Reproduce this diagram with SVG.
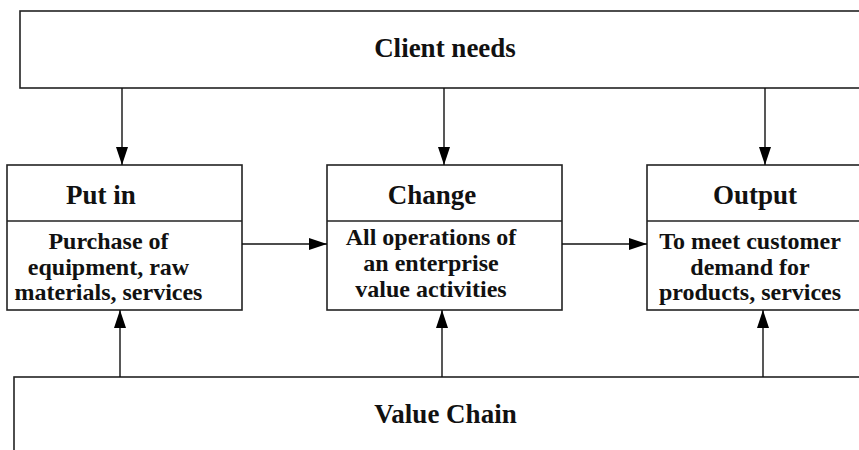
<svg xmlns="http://www.w3.org/2000/svg" width="859" height="450" viewBox="0 0 859 450">
  <defs>
    <style>
      .box { fill: #ffffff; stroke: #222222; stroke-width: 1.6; }
      .div { stroke: #222222; stroke-width: 1.6; fill: none; }
      .edge { stroke: #111111; stroke-width: 1.4; fill: none; marker-end: url(#arrow); }
      .head { font-family: "Liberation Serif", "Times New Roman", serif; font-weight: bold; font-size: 27px; fill: #111111; text-anchor: middle; }
      .body { font-family: "Liberation Serif", "Times New Roman", serif; font-weight: bold; font-size: 24px; fill: #111111; text-anchor: middle; }
    </style>
    <marker id="arrow" viewBox="0 0 18 12" refX="18" refY="6" markerWidth="18" markerHeight="12" markerUnits="userSpaceOnUse" orient="auto">
      <path d="M0,0 L18,6 L0,12 Z" fill="#000000"/>
    </marker>
  </defs>

  <rect width="859" height="450" fill="#ffffff"/>

  <!-- demand source across the top -->
  <g id="client-needs">
    <rect class="box" x="20" y="11" width="860" height="77"/>
    <text class="head" x="445" y="57">Client needs</text>
  </g>

  <!-- input stage -->
  <g id="put-in">
    <rect class="box" x="7" y="165" width="235" height="145"/>
    <line class="div" x1="7" y1="221" x2="242" y2="221"/>
    <text class="head" x="101" y="204">Put in</text>
    <text class="body" x="108.5" y="249">Purchase of</text>
    <text class="body" x="108.5" y="275">equipment, raw</text>
    <text class="body" x="108.5" y="300">materials, services</text>
  </g>

  <!-- transformation stage -->
  <g id="change">
    <rect class="box" x="327" y="165" width="235" height="145"/>
    <line class="div" x1="327" y1="221" x2="562" y2="221"/>
    <text class="head" x="432" y="204">Change</text>
    <text class="body" x="431" y="245">All operations of</text>
    <text class="body" x="431" y="271">an enterprise</text>
    <text class="body" x="431" y="297">value activities</text>
  </g>

  <!-- output stage -->
  <g id="output">
    <rect class="box" x="647" y="165" width="235" height="145"/>
    <line class="div" x1="647" y1="221" x2="882" y2="221"/>
    <text class="head" x="755" y="204">Output</text>
    <text class="body" x="750" y="249">To meet customer</text>
    <text class="body" x="750" y="275">demand for</text>
    <text class="body" x="750" y="300">products, services</text>
  </g>

  <!-- supporting base along the bottom -->
  <g id="value-chain">
    <rect class="box" x="14" y="377" width="870" height="90"/>
    <text class="head" x="445.5" y="423">Value Chain</text>
  </g>

  <!-- connectors -->
  <g id="connectors">
    <line class="edge" x1="122" y1="88" x2="122" y2="165"/>
    <line class="edge" x1="444" y1="88" x2="444" y2="165"/>
    <line class="edge" x1="765" y1="88" x2="765" y2="165"/>
    <line class="edge" x1="242" y1="244" x2="327" y2="244"/>
    <line class="edge" x1="562" y1="244" x2="647" y2="244"/>
    <line class="edge" x1="120" y1="377" x2="120" y2="310"/>
    <line class="edge" x1="442" y1="377" x2="442" y2="310"/>
    <line class="edge" x1="763" y1="377" x2="763" y2="310"/>
  </g>
</svg>
